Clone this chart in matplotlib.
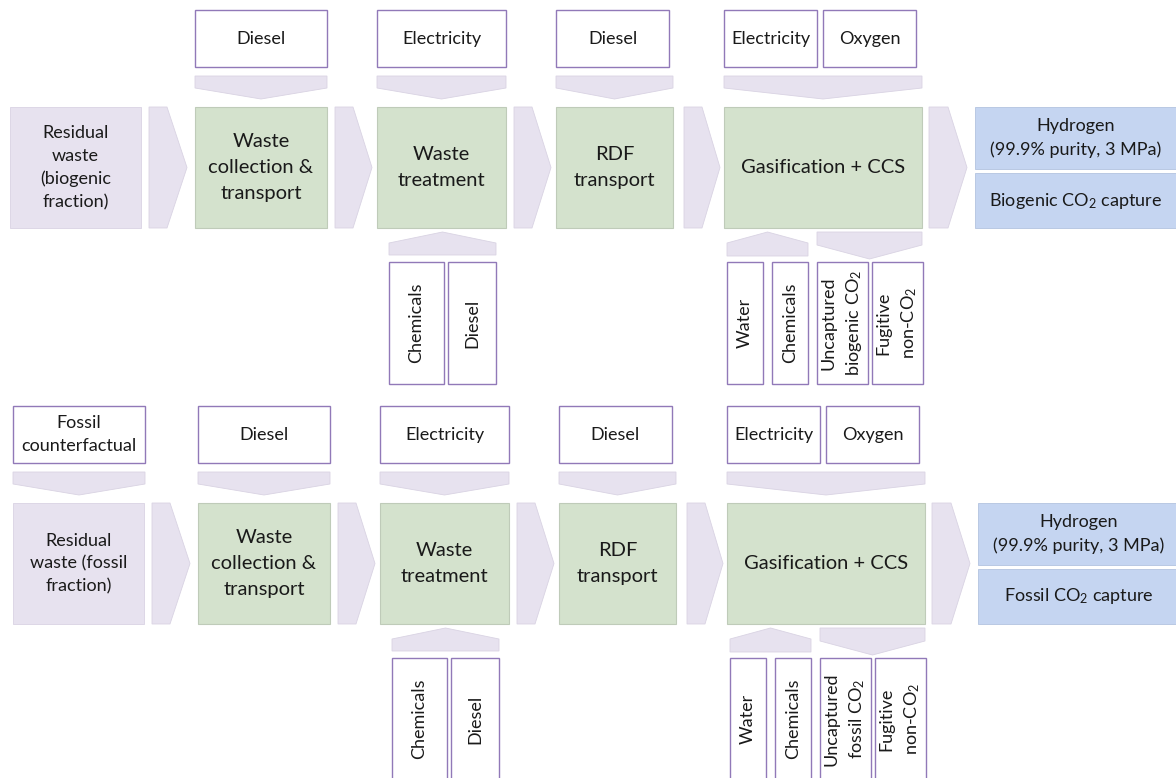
import matplotlib.pyplot as plt
from matplotlib.patches import Polygon, Rectangle

plt.rcParams['font.family'] = ['Lato', 'DejaVu Sans']
plt.rcParams['mathtext.fontset'] = 'custom'
plt.rcParams['mathtext.rm'] = 'Lato'
plt.rcParams['mathtext.it'] = 'Lato:italic'

# ---- diagram content -------------------------------------------------------
stages = ["Waste\ncollection &\ntransport", "Waste\ntreatment", "RDF\ntransport",
          "Gasification + CCS"]
stage_inputs = [["Diesel"], ["Electricity"], ["Diesel"], ["Electricity", "Oxygen"]]
treatment_inputs = ["Chemicals", "Diesel"]
gasif_inputs = ["Water", "Chemicals"]

feed_top = "Residual\nwaste\n(biogenic\nfraction)"
feed_bottom = "Residual\nwaste (fossil\nfraction)"
product = "Hydrogen\n(99.9% purity, 3 MPa)"
capture_top = "Biogenic CO$_2$ capture"
capture_bottom = "Fossil CO$_2$ capture"
emissions_top = ["Uncaptured\nbiogenic CO$_2$", "Fugitive\nnon-CO$_2$"]
emissions_bottom = ["Uncaptured\nfossil CO$_2$", "Fugitive\nnon-CO$_2$"]
counterfactual = "Fossil\ncounterfactual"

# ---- layout (pixel coordinates, y down) ------------------------------------
LAV = "#e7e2ef"
LAV_EDGE = "#d9d3e3"
GREEN = "#d4e2cd"
GREEN_EDGE = "#bfcbb9"
BLUE = "#c5d5f1"
BLUE_EDGE = "#b3c3e0"
BOX_EDGE = "#9179b8"
TXT = "#1a1a1a"
SMALL = 13
BIG = 14.5

stage_x = [(195, 327), (377, 506), (556, 673), (724, 922)]
input_x = [[(195, 327)], [(377, 506)], [(556, 669)], [(724, 817), (823, 916)]]
arrow_x = [(149, 167, 187), (335, 353, 372), (514, 532, 551), (684, 702, 720),
           (929, 948, 967)]
feed_x = (10, 141)
out_x = (975, 1176)
MAIN_Y = (107, 228)
IN_Y = (10, 67)
CHEV_DOWN_Y = (76, 88, 99)
BELOW_Y = (262, 384)

fig = plt.figure(figsize=(11.76, 7.78), dpi=100)
ax = fig.add_axes([0, 0, 1, 1])
ax.set_xlim(0, 1176)
ax.set_ylim(778, 0)
ax.axis("off")


def box(x0, x1, y0, y1, fc, ec, lw=1.0):
    ax.add_patch(Rectangle((x0, y0), x1 - x0, y1 - y0, fc=fc, ec=ec, lw=lw))


def label(x, y, s, size, rot=0):
    ax.text(x, y, s, ha="center", va="center", fontsize=size, color=TXT,
            rotation=rot, rotation_mode="anchor",
            linespacing=1.62 if size == BIG else 1.52)


def chevron_down(x0, x1, ys):
    top, side, tip = ys
    ax.add_patch(Polygon([(x0, top), (x1, top), (x1, side), ((x0 + x1) / 2, tip),
                          (x0, side)], fc=LAV, ec=LAV_EDGE, lw=0.6))


def chevron_up(x0, x1, ys):
    tip, side, bot = ys
    ax.add_patch(Polygon([(x0, bot), (x0, side), ((x0 + x1) / 2, tip), (x1, side),
                          (x1, bot)], fc=LAV, ec=LAV_EDGE, lw=0.6))


def arrow_right(a, b, c, y0, y1):
    ax.add_patch(Polygon([(a, y0), (b, y0), (c, (y0 + y1) / 2), (b, y1), (a, y1)],
                         fc=LAV, ec=LAV_EDGE, lw=0.6))


def draw_half(dx, dy, feed, capture, emissions, top_feed=None):
    my0, my1 = MAIN_Y[0] + dy, MAIN_Y[1] + dy
    # feedstock
    box(feed_x[0] + dx, feed_x[1] + dx, my0, my1, LAV, LAV_EDGE, 0.6)
    label((feed_x[0] + feed_x[1]) / 2 + dx, (my0 + my1) / 2, feed, SMALL)
    if top_feed:
        box(feed_x[0] + dx, feed_x[1] + dx + 1, IN_Y[0] + dy, IN_Y[1] + dy, "white", BOX_EDGE)
        label((feed_x[0] + feed_x[1]) / 2 + dx, (IN_Y[0] + IN_Y[1]) / 2 + dy, top_feed, SMALL)
        chevron_down(feed_x[0] + dx, feed_x[1] + dx + 1, [v + dy for v in CHEV_DOWN_Y])
    for a, b, c in arrow_x:
        arrow_right(a + dx, b + dx, c + dx, my0, my1)
    # process stages and their inputs
    for name, (x0, x1), ins, ixs in zip(stages, stage_x, stage_inputs, input_x):
        box(x0 + dx, x1 + dx, my0, my1, GREEN, GREEN_EDGE, 0.8)
        label((x0 + x1) / 2 + dx, (my0 + my1) / 2, name, BIG)
        for s, (ix0, ix1) in zip(ins, ixs):
            box(ix0 + dx, ix1 + dx, IN_Y[0] + dy, IN_Y[1] + dy, "white", BOX_EDGE)
            label((ix0 + ix1) / 2 + dx, (IN_Y[0] + IN_Y[1]) / 2 + dy, s, SMALL)
        chevron_down(x0 + dx, x1 + dx, [v + dy for v in CHEV_DOWN_Y])
    # outputs
    split = 171
    box(out_x[0] + dx, out_x[1] + 2, my0, split - 2 + dy, BLUE, BLUE_EDGE, 0.6)
    box(out_x[0] + dx, out_x[1] + 2, split + 2 + dy, my1, BLUE, BLUE_EDGE, 0.6)
    cx = (out_x[0] + out_x[1]) / 2 + dx
    label(cx, (my0 + split - 2 + dy) / 2, product, SMALL)
    label(cx, (split + 2 + dy + my1) / 2, capture, SMALL)
    # inputs below waste treatment
    by0, by1 = BELOW_Y[0] + dy, BELOW_Y[1] + dy
    chevron_up(389 + dx, 496 + dx, (232 + dy, 243 + dy, 255 + dy))
    for s, (x0, x1) in zip(treatment_inputs, [(389, 444), (448, 496)]):
        box(x0 + dx, x1 + dx, by0, by1, "white", BOX_EDGE)
        label((x0 + x1) / 2 + dx, (by0 + by1) / 2, s, SMALL, rot=90)
    # inputs and emissions below gasification
    chevron_up(727 + dx, 808 + dx, (232 + dy, 243 + dy, 256 + dy))
    chevron_down(817 + dx, 922 + dx, (232 + dy, 245 + dy, 259 + dy))
    below = gasif_inputs + emissions
    for s, (x0, x1) in zip(below, [(727, 763), (772, 808), (817, 868), (872, 923)]):
        box(x0 + dx, x1 + dx, by0, by1, "white", BOX_EDGE)
        label((x0 + x1) / 2 + dx, (by0 + by1) / 2, s, SMALL, rot=90)


draw_half(0, 0, feed_top, capture_top, emissions_top)
draw_half(3, 396, feed_bottom, capture_bottom, emissions_bottom, top_feed=counterfactual)

fig.savefig("out.png", dpi=100)
